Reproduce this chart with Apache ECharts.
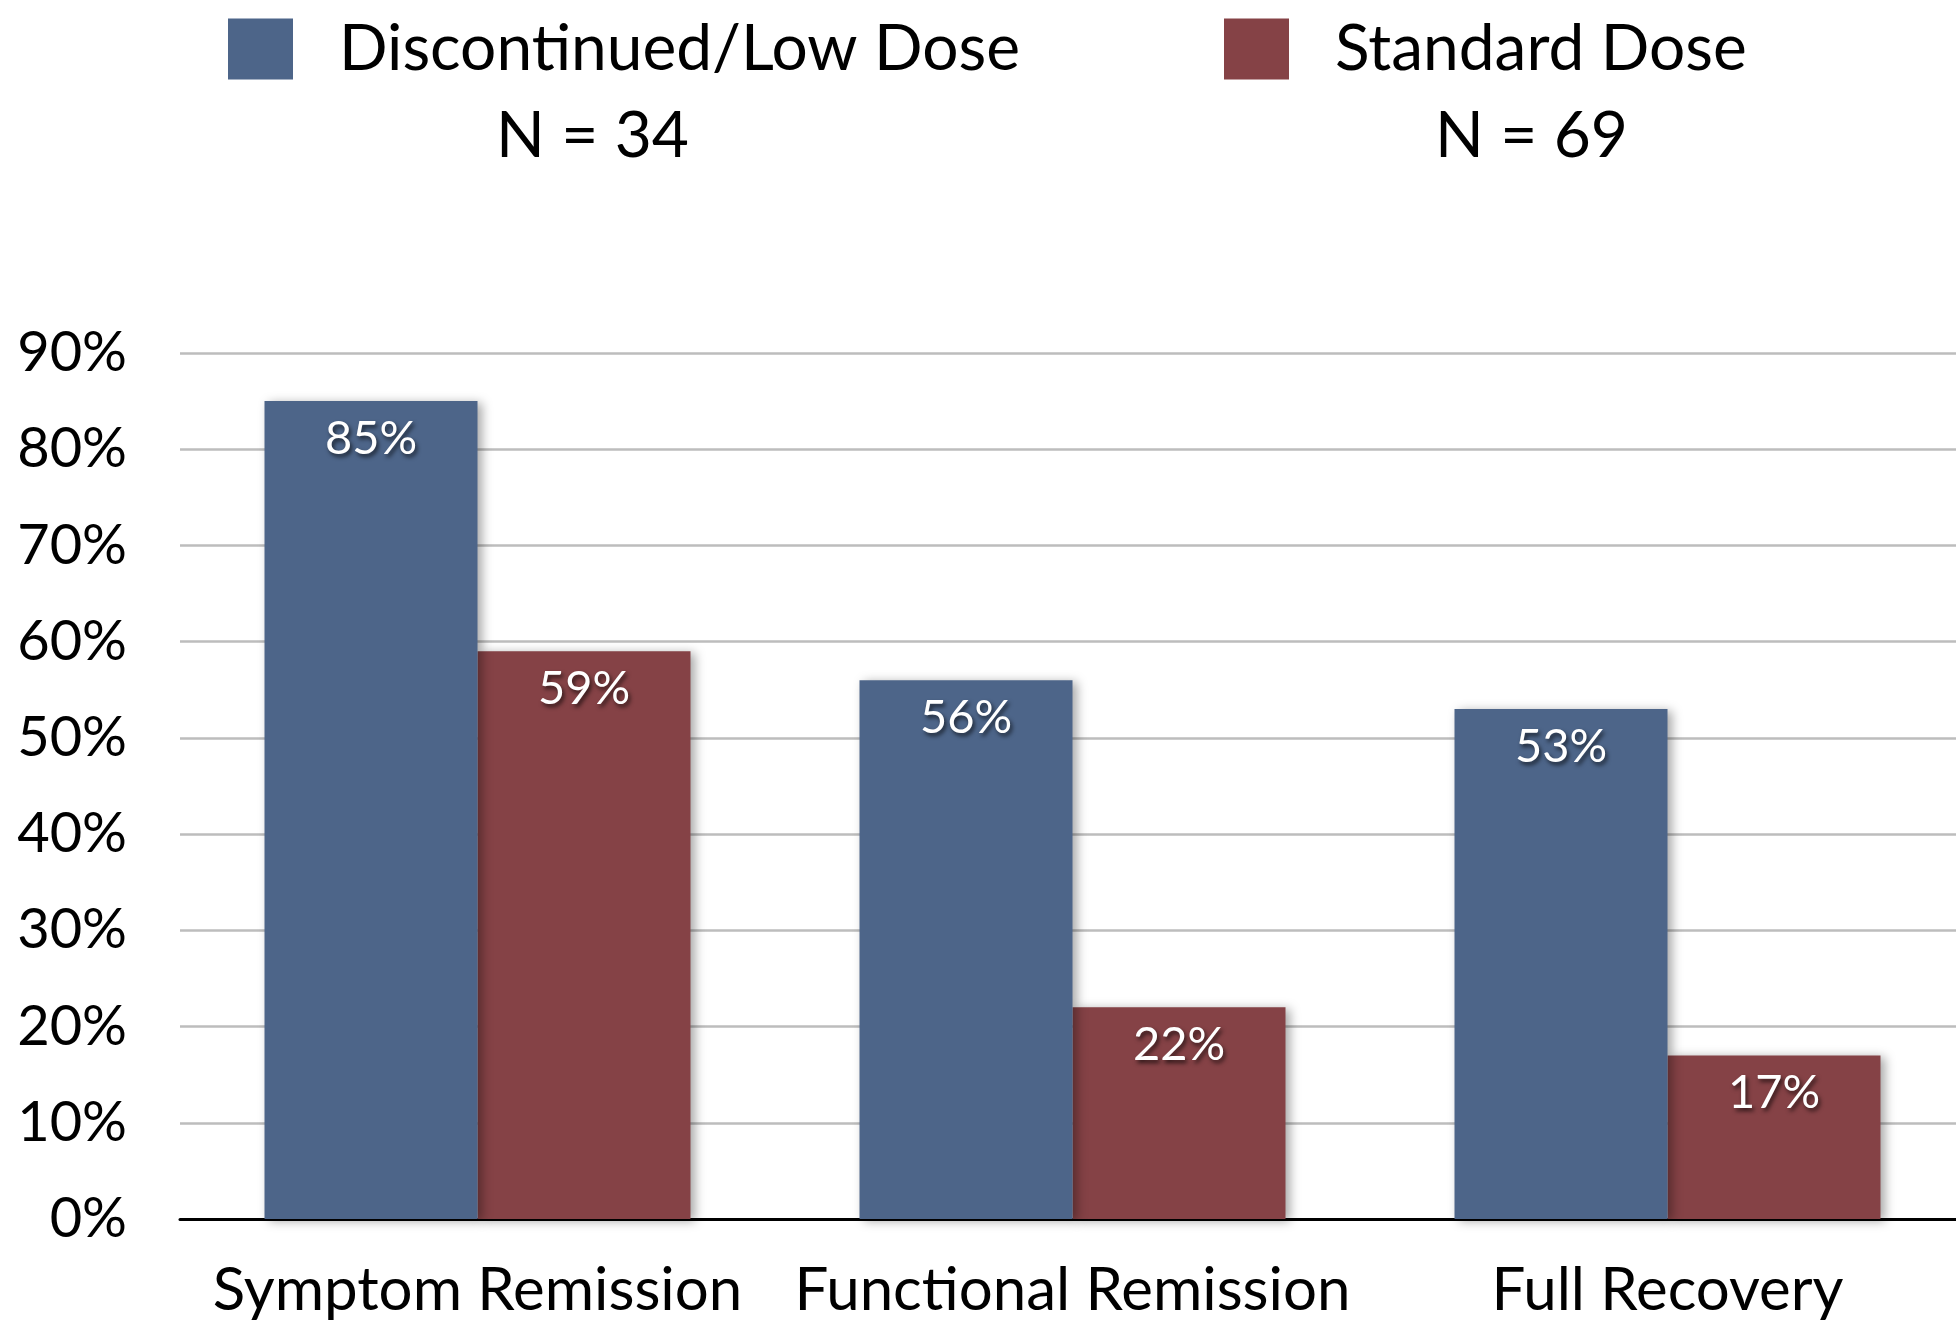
<!DOCTYPE html>
<html>
<head>
<meta charset="utf-8">
<script src="https://cdn.jsdelivr.net/npm/echarts@6/dist/echarts.min.js"></script>
<style>
  html, body { margin: 0; padding: 0; background: #fff; }
  #chart { width: 1956px; height: 1324px; }
</style>
</head>
<body>
<div id="chart"></div>
<script>
// 类目
const categories = ["Symptom Remission", "Functional Remission", "Full Recovery"];
// 两组数值 (%)
const lowDose = [85, 56, 53];
const standardDose = [59, 22, 17];
const seriesNames = ["Discontinued/Low Dose", "Standard Dose"];
const groupSizes = ["N = 34", "N = 69"];

const FONT = "'Gill Sans', 'Gill Sans MT', Lato, 'Noto Sans', sans-serif";
const colorBlue = "#4d6589";
const colorRed = "#854246";

const chart = echarts.init(document.getElementById("chart"));

const barLabel = {
  show: true,
  position: "insideTop",
  distance: 14,
  color: "#fff",
  fontFamily: FONT,
  fontSize: 47,
  textShadowColor: "rgba(0,0,0,0.65)",
  textShadowBlur: 4,
  textShadowOffsetX: 2,
  textShadowOffsetY: 3,
  formatter: (p) => p.value + "%",
};

const barShadow = {
  shadowColor: "rgba(0,0,0,0.35)",
  shadowBlur: 10,
  shadowOffsetX: 4,
  shadowOffsetY: 2,
};

const legendCommon = {
  top: 12,
  icon: "rect",
  itemWidth: 65,
  itemHeight: 61,
  selectedMode: false,
  textStyle: {
    fontFamily: FONT,
    fontSize: 64,
    color: "#000",
    padding: [0, 0, 0, 41],
  },
};

// N = xx 文字
const nText = (cx, text) => ({
  type: "text",
  left: cx - 100,
  top: 104,
  style: {
    text: text,
    x: 100,
    width: 200,
    align: "center",
    font: "64px " + FONT,
    fill: "#000",
  },
});

const option = {
  backgroundColor: "#fff",
  animation: false,
  legend: [
    Object.assign({ left: 223, data: [seriesNames[0]] }, legendCommon),
    Object.assign({ left: 1219, data: [seriesNames[1]] }, legendCommon),
  ],
  graphic: [nText(596, groupSizes[0]), nText(1535, groupSizes[1])],
  grid: {
    left: 180,
    width: 1785,
    top: 353,
    bottom: 105,
    containLabel: false,
    outerBoundsMode: "none",
  },
  xAxis: {
    type: "category",
    data: categories,
    axisLine: { show: true, lineStyle: { color: "#000", width: 3 } },
    axisTick: { show: false },
    axisLabel: {
      fontFamily: FONT,
      fontSize: 60,
      color: "#000",
      margin: 42,
      interval: 0,
    },
  },
  yAxis: {
    type: "value",
    min: 0,
    max: 90,
    interval: 10,
    axisLine: { show: false },
    axisTick: { show: false },
    axisLabel: {
      fontFamily: FONT,
      fontSize: 56,
      color: "#000",
      margin: 53,
      formatter: "{value}%",
    },
    splitLine: { lineStyle: { color: "#bdbdbd", width: 2.5 } },
  },
  series: [
    {
      name: seriesNames[0],
      type: "bar",
      data: lowDose,
      barWidth: 213,
      barGap: "0%",
      itemStyle: Object.assign({ color: colorBlue }, barShadow),
      label: barLabel,
      z: 3,
    },
    {
      name: seriesNames[1],
      type: "bar",
      data: standardDose,
      barWidth: 213,
      barGap: "0%",
      itemStyle: Object.assign({ color: colorRed }, barShadow),
      label: barLabel,
      z: 2,
    },
  ],
};

chart.setOption(option);
</script>
</body>
</html>
